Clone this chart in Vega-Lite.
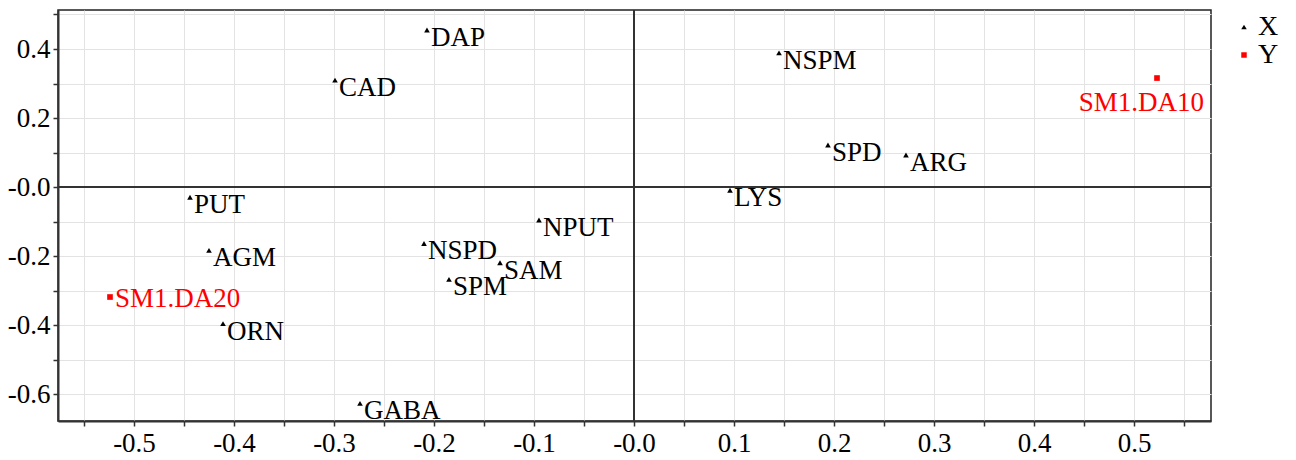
{
  "$schema": "https://vega.github.io/schema/vega-lite/v6.json",
  "width": 1153,
  "height": 411,
  "autosize": {"type": "none"},
  "padding": {"left": 58, "top": 10, "right": 85, "bottom": 39},
  "background": "white",
  "config": {
    "font": "'Liberation Serif', 'Times New Roman', serif",
    "view": {"stroke": "#222", "strokeWidth": 1.5},
    "axis": {
      "grid": true,
      "gridColor": "#e3e3e3",
      "gridWidth": 1,
      "gridOpacity": 1,
      "domainColor": "#333",
      "domainWidth": 2,
      "tickColor": "#333",
      "tickWidth": 1.5,
      "tickSize": 5,
      "labelFont": "'Liberation Serif', 'Times New Roman', serif",
      "labelFontSize": 27,
      "labelColor": "#000"
    },
    "legend": {"labelFont": "'Liberation Serif', 'Times New Roman', serif"},
    "text": {"font": "'Liberation Serif', 'Times New Roman', serif"}
  },
  "data": {
    "values": [
      {"name": "DAP", "group": "X", "x": -0.207, "y": 0.455},
      {"name": "CAD", "group": "X", "x": -0.299, "y": 0.310},
      {"name": "NSPM", "group": "X", "x": 0.145, "y": 0.389},
      {"name": "SPD", "group": "X", "x": 0.194, "y": 0.122},
      {"name": "ARG", "group": "X", "x": 0.272, "y": 0.093},
      {"name": "LYS", "group": "X", "x": 0.096, "y": -0.009},
      {"name": "NPUT", "group": "X", "x": -0.095, "y": -0.095},
      {"name": "NSPD", "group": "X", "x": -0.210, "y": -0.163},
      {"name": "SAM", "group": "X", "x": -0.134, "y": -0.219},
      {"name": "SPM", "group": "X", "x": -0.185, "y": -0.267},
      {"name": "PUT", "group": "X", "x": -0.444, "y": -0.029},
      {"name": "AGM", "group": "X", "x": -0.425, "y": -0.183},
      {"name": "ORN", "group": "X", "x": -0.411, "y": -0.395},
      {"name": "GABA", "group": "X", "x": -0.274, "y": -0.626},
      {"name": "SM1.DA20", "group": "Y", "x": -0.524, "y": -0.318},
      {"name": "SM1.DA10", "group": "Y", "x": 0.523, "y": 0.316}
    ]
  },
  "layer": [
    {
      "layer": [
        {
          "mark": {"type": "rule", "color": "#333", "strokeWidth": 1.5},
          "encoding": {
            "x": {
              "datum": 0, "type": "quantitative",
              "scale": {"domain": [-0.576, 0.577], "nice": false, "zero": false},
              "axis": {
                "title": null,
                "grid": true,
                "values": [-0.55, -0.5, -0.45, -0.4, -0.35, -0.3, -0.25, -0.2, -0.15, -0.1, -0.05, 0, 0.05, 0.1, 0.15, 0.2, 0.25, 0.3, 0.35, 0.4, 0.45, 0.5, 0.55],
                "labelExpr": "round(datum.value*100) % 10 == 0 ? (datum.value == 0 ? '-0.0' : (datum.value < 0 ? '-' : '') + format(abs(datum.value), '.1f')) : ''",
                "labelPadding": 4,
                "labelFlush": false,
                "labelOverlap": false
              }
            }
          }
        },
        {
          "mark": {"type": "rule", "color": "#333", "strokeWidth": 1.5},
          "encoding": {
            "y": {
              "datum": 0, "type": "quantitative",
              "scale": {"domain": [-0.677, 0.513], "nice": false, "zero": false},
              "axis": {
                "title": null,
                "grid": true,
                "values": [-0.6, -0.5, -0.4, -0.3, -0.2, -0.1, 0, 0.1, 0.2, 0.3, 0.4, 0.5],
                "labelExpr": "round(datum.value*10) % 2 == 0 ? (datum.value == 0 ? '-0.0' : (datum.value < 0 ? '-' : '') + format(abs(datum.value), '.1f')) : ''",
                "labelPadding": 3,
                "labelFlush": false,
                "labelOverlap": false
              }
            }
          }
        }
      ]
    },
    {
      "encoding": {
        "x": {
          "field": "x", "type": "quantitative",
          "scale": {"domain": [-0.576, 0.577], "nice": false, "zero": false},
          "axis": {
            "title": null,
            "grid": true,
            "values": [-0.55, -0.5, -0.45, -0.4, -0.35, -0.3, -0.25, -0.2, -0.15, -0.1, -0.05, 0, 0.05, 0.1, 0.15, 0.2, 0.25, 0.3, 0.35, 0.4, 0.45, 0.5, 0.55],
            "labelExpr": "round(datum.value*100) % 10 == 0 ? (datum.value == 0 ? '-0.0' : (datum.value < 0 ? '-' : '') + format(abs(datum.value), '.1f')) : ''",
            "labelPadding": 4,
            "labelFlush": false,
            "labelOverlap": false
          }
        },
        "y": {
          "field": "y", "type": "quantitative",
          "scale": {"domain": [-0.677, 0.513], "nice": false, "zero": false},
          "axis": {
            "title": null,
            "grid": true,
            "values": [-0.6, -0.5, -0.4, -0.3, -0.2, -0.1, 0, 0.1, 0.2, 0.3, 0.4, 0.5],
            "labelExpr": "round(datum.value*10) % 2 == 0 ? (datum.value == 0 ? '-0.0' : (datum.value < 0 ? '-' : '') + format(abs(datum.value), '.1f')) : ''",
            "labelPadding": 3,
            "labelFlush": false,
            "labelOverlap": false
          }
        }
      },
      "layer": [
        {
          "mark": {"type": "point", "filled": true, "opacity": 1, "size": 32},
          "encoding": {
            "shape": {
              "field": "group", "type": "nominal",
              "scale": {"domain": ["X", "Y"], "range": ["triangle-up", "square"]},
              "legend": {
                "title": null,
                "orient": "none",
                "legendX": 1172,
                "legendY": 3,
                "labelFontSize": 28,
                "labelColor": "#000",
                "symbolSize": 30,
                "rowPadding": -6,
                "labelOffset": 0
              }
            },
            "color": {
              "field": "group", "type": "nominal",
              "scale": {"domain": ["X", "Y"], "range": ["#000000", "#ff0000"]},
              "legend": {
                "title": null,
                "orient": "none",
                "legendX": 1172,
                "legendY": 3,
                "labelFontSize": 28,
                "labelColor": "#000",
                "symbolSize": 30,
                "rowPadding": -6,
                "labelOffset": 0
              }
            }
          }
        },
        {
          "transform": [{"filter": "datum.group == 'X'"}],
          "mark": {"type": "text", "align": "left", "baseline": "alphabetic", "dx": 4, "dy": 16, "fontSize": 27, "color": "#000"},
          "encoding": {"text": {"field": "name"}}
        },
        {
          "transform": [{"filter": "datum.name == 'SM1.DA20'"}],
          "mark": {"type": "text", "align": "left", "baseline": "alphabetic", "dx": 5, "dy": 10, "fontSize": 27, "color": "#ff0000"},
          "encoding": {"text": {"field": "name"}}
        },
        {
          "transform": [{"filter": "datum.name == 'SM1.DA10'"}],
          "mark": {"type": "text", "align": "right", "baseline": "alphabetic", "dx": 47, "dy": 33, "fontSize": 27, "color": "#ff0000"},
          "encoding": {"text": {"field": "name"}}
        }
      ]
    }
  ]
}
